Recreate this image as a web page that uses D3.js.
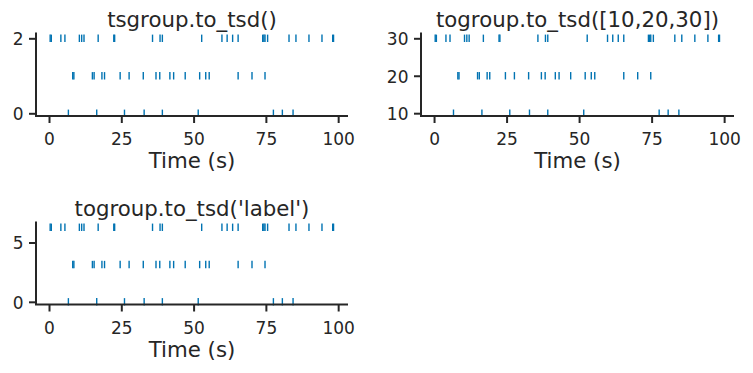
<!DOCTYPE html>
<html>
<head>
<meta charset="utf-8">
<script src="https://cdn.jsdelivr.net/npm/d3@7"></script>
<style>
  body { margin: 0; background: #fff; }
  text { font-family: "DejaVu Sans", sans-serif; fill: #262626; }
</style>
</head>
<body>
<svg id="chart" width="753" height="373"></svg>
<script>
/*** DATA ***/
// spike times (s) for the three units, same in every panel
const unit0 = [6.7, 16.5, 26.1, 32.9, 39.2, 51.6, 77.6, 80.7, 84.4];
const unit1 = [8.2, 8.6, 15.0, 15.6, 18.3, 19.2, 24.6, 27.7, 32.6, 37.0, 38.3, 41.8, 43.1,
               47.1, 52.1, 54.2, 55.4, 65.4, 70.2, 74.7];
const unit2 = [0.4, 0.8, 4.1, 5.5, 10.5, 11.3, 12.1, 17.0, 22.4, 22.7, 35.8, 38.4, 39.2,
               52.8, 59.8, 61.6, 63.5, 65.4, 73.9, 74.3, 74.7, 75.6, 83.0, 85.4, 89.9,
               94.4, 98.1, 98.4];

const titles = ["tsgroup.to_tsd()", "togroup.to_tsd([10,20,30])", "togroup.to_tsd('label')"];
const rowValues = [[0, 1, 2], [10, 20, 30], [0, Math.PI, 2 * Math.PI]];
const yTicks = [[0, 2], [10, 20, 30], [0, 5]];
const xTicks = [0, 25, 50, 75, 100];
const xLabel = "Time (s)";

/*** LAYOUT ***/
const INK = "#262626";
const SPIKE = "#0173b2";
const panels = [
  {left: 36, right: 348, top: 32.5, bottom: 116, ydom: [-0.072, 2.155]},
  {left: 421, right: 734, top: 32.5, bottom: 116, ydom: [9.25, 31.55]},
  {left: 36, right: 348, top: 221.5, bottom: 304.5, ydom: [-0.226, 6.77]}
];
const XDOM = [-4.5, 103.4];

const svg = d3.select("#chart");
const units = [unit0, unit1, unit2];

panels.forEach((p, i) => {
  const x = d3.scaleLinear().domain(XDOM).range([p.left, p.right]);
  const y = d3.scaleLinear().domain(p.ydom).range([p.bottom, p.top]);
  const g = svg.append("g");

  // spikes as '|' markers
  units.forEach((times, k) => {
    g.append("g")
      .selectAll("line")
      .data(times)
      .join("line")
      .attr("x1", d => x(d))
      .attr("x2", d => x(d))
      .attr("y1", y(rowValues[i][k]) - 3.7)
      .attr("y2", y(rowValues[i][k]) + 3.7)
      .attr("stroke", SPIKE)
      .attr("stroke-width", 1.4);
  });

  const gx = g.append("g")
    .attr("transform", `translate(0,${p.bottom})`)
    .call(d3.axisBottom(x).tickValues(xTicks).tickSize(7).tickSizeOuter(0).tickPadding(10));
  const gy = g.append("g")
    .attr("transform", `translate(${p.left},0)`)
    .call(d3.axisLeft(y).tickValues(yTicks[i]).tickFormat(d3.format("d")).tickSize(7).tickSizeOuter(0).tickPadding(5.5));

  [gx, gy].forEach(a => {
    a.select(".domain").attr("stroke", INK).attr("stroke-width", 2);
    a.selectAll(".tick line").attr("stroke", INK).attr("stroke-width", 2);
    a.selectAll(".tick text")
      .attr("fill", INK)
      .style("font-family", "DejaVu Sans")
      .style("font-size", "17px");
  });
  gx.select(".domain").attr("d", `M${p.left - 1},0H${p.right}`);
  gy.select(".domain").attr("d", `M0,${p.top}V${p.bottom}`);
  gy.selectAll(".tick text").attr("dy", "0.38em");

  g.append("text")
    .attr("x", (p.left + p.right) / 2)
    .attr("y", p.top - 6)
    .attr("text-anchor", "middle")
    .style("font-size", "21.3px")
    .text(titles[i]);

  g.append("text")
    .attr("x", (p.left + p.right) / 2)
    .attr("y", p.bottom + 52.3)
    .attr("text-anchor", "middle")
    .style("font-size", "21.3px")
    .text(xLabel);
});
</script>
</body>
</html>
